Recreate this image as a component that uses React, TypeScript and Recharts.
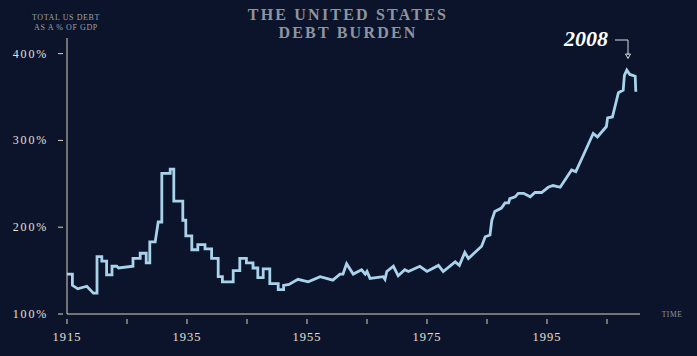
// @ts-nocheck
import { LineChart, Line, XAxis, YAxis } from 'recharts';

// values (year, total US debt as % of GDP)
const years = [
  1915, 1915.9, 1915.9, 1916.8, 1918.3, 1919.4, 1920, 1920, 1920.8, 1920.8, 1921.6, 1921.6,
  1922.5, 1922.5, 1923.3, 1923.6, 1926, 1926, 1927.2, 1927.2, 1928.2, 1928.2, 1928.8, 1928.8,
  1929.7, 1930.2, 1930.8, 1930.8, 1932.2, 1932.2, 1932.8, 1932.8, 1934.3, 1934.3, 1934.8, 1934.8,
  1935.8, 1935.8, 1936.8, 1936.8, 1938, 1938, 1939.1, 1939.1, 1940.2, 1940.2, 1940.9, 1940.9,
  1942.7, 1942.7, 1943.8, 1943.8, 1944.9, 1944.9, 1946, 1946, 1946.8, 1946.8, 1947.7, 1947.7,
  1948.8, 1948.8, 1950.2, 1950.2, 1951.1, 1951.1, 1952, 1953.5, 1955.2, 1957.2, 1959.3, 1960.5,
  1961, 1961.6, 1962.7, 1964.1, 1964.7, 1965, 1965.5, 1967.7, 1968, 1968.3, 1969.4, 1970.2,
  1971.3, 1971.9, 1973.8, 1975, 1976.9, 1977.7, 1979.7, 1980.4, 1981.3, 1981.9, 1984.1, 1984.7,
  1985.5, 1985.8, 1986.3, 1987.4, 1988, 1988.6, 1988.8, 1989.7, 1990.2, 1991.1, 1992.2, 1993,
  1994.1, 1995.2, 1996, 1997.2, 1999.1, 1999.8, 2001, 2002.7, 2003.4, 2004.9, 2005.1, 2005.9,
  2006.9, 2007.7, 2007.9, 2008.3, 2008.8, 2009.7, 2009.8,
];
const debtPct = [
  146, 146, 133, 129, 132, 124, 124, 166, 166, 161, 161, 145,
  145, 155, 155, 153, 155, 164, 164, 170, 170, 159, 159, 183,
  183, 206, 206, 262, 262, 267, 267, 230, 230, 208, 208, 190,
  190, 174, 174, 180, 180, 175, 175, 164, 164, 143, 143, 137,
  137, 150, 150, 164, 164, 159, 159, 153, 153, 142, 142, 152,
  152, 135, 135, 128, 128, 133, 134, 140, 137, 143, 139, 146,
  146, 158, 146, 151, 146, 149, 141, 143, 140, 149, 155, 144,
  151, 149, 155, 149, 156, 149, 160, 156, 171, 164, 178, 189,
  191, 208, 218, 222, 228, 228, 233, 235, 239, 239, 235, 240,
  240, 246, 248, 246, 266, 264, 282, 308, 304, 316, 326, 327,
  355, 358, 375, 381, 376, 374, 356,
];
const xTicks = [1915, 1925, 1935, 1945, 1955, 1965, 1975, 1985, 1995, 2005];
const yTicks = [100, 200, 300, 400];

const data = years.map((year, i) => ({ year, debt: debtPct[i] }));

const BG = '#0c142b';
const AXIS = '#d8d3bc';
const LINE = '#a8d3ea';

function XTick({ x, y, payload }) {
  const labelled = (payload.value - 1915) % 20 === 0;
  return (
    <g>
      <line x1={x} x2={x} y1={y + 5} y2={y + 10} stroke={AXIS} strokeWidth={1} />
      {labelled && (
        <text x={x} y={y + 27} textAnchor="middle" fill="#e4e0d2" fontSize={12.5}
          fontFamily="Liberation Serif" letterSpacing={1}>
          {payload.value}
        </text>
      )}
    </g>
  );
}

function YTick({ x, y, payload }) {
  return (
    <g>
      <line x1={x - 9} x2={x - 4} y1={y} y2={y} stroke={AXIS} strokeWidth={1} />
      <text x={x - 19} y={y + 4} textAnchor="end" fill="#e4e0d2" fontSize={12}
        fontFamily="Liberation Serif" letterSpacing={1.8}>
        {payload.value}%
      </text>
    </g>
  );
}

export default function App() {
  return (
    <div style={{ position: 'absolute', left: 0, top: 0, width: 697, height: 356, background: BG }}>
      <LineChart width={697} height={356} data={data}
        margin={{ top: 38, right: 57, left: 0, bottom: 0 }}>
        <XAxis dataKey="year" type="number" domain={[1915, 2010.5]} ticks={xTicks}
          stroke={AXIS} tickSize={0} tickMargin={0} tick={XTick} height={42}
          allowDataOverflow interval={0} />
        <YAxis type="number" domain={[100, 418]} ticks={yTicks} stroke={AXIS}
          tickSize={0} tickMargin={0} tick={YTick} width={67} allowDataOverflow interval={0} />
        <Line type="linear" dataKey="debt" stroke={LINE} strokeWidth={2.8} dot={false}
          strokeLinejoin="miter" isAnimationActive={false} />
      </LineChart>
      <svg width={697} height={356} style={{ position: 'absolute', left: 0, top: 0, pointerEvents: 'none' }}>
        <g fontFamily="Liberation Serif" fontWeight="bold" fill="#8f949e" fontSize={16}
          letterSpacing={2.2} textAnchor="middle">
          <text x={348} y={20}>THE UNITED STATES</text>
          <text x={348} y={38}>DEBT BURDEN</text>
        </g>
        <g fontFamily="Liberation Serif" fill="#9ba0a8" fontSize={8} letterSpacing={0.6}
          textAnchor="middle">
          <text x={66} y={20}>TOTAL US DEBT</text>
          <text x={66} y={30}>AS A % OF GDP</text>
        </g>
        <text x={672} y={317} textAnchor="middle" fontFamily="Liberation Serif" fontSize={7.5}
          fill="#8f949e" letterSpacing={0.6}>TIME</text>
        <text x={586} y={46} textAnchor="middle" fontFamily="Liberation Serif" fontWeight="bold"
          fontStyle="italic" fontSize={22} fill="#ffffff">2008</text>
        <polyline points="615,40 628,40 628,55" fill="none" stroke="#d7dbe0" strokeWidth={1} />
        <polygon points="625.5,54 630.5,54 628,58.5" fill="none" stroke="#d7dbe0" strokeWidth={1} />
      </svg>
    </div>
  );
}
